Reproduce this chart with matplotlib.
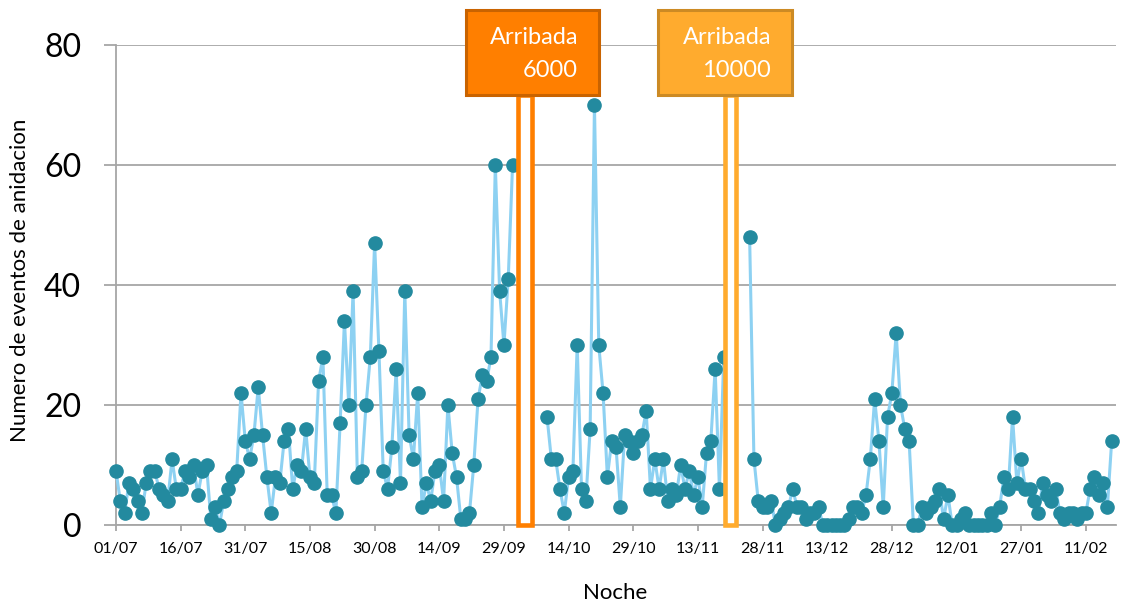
import numpy as np
import pandas as pd
import matplotlib
matplotlib.use('Agg')
import matplotlib.pyplot as plt
import matplotlib.dates as mdates
from matplotlib.patches import Rectangle

plt.rcParams['font.family'] = ['Lato', 'DejaVu Sans']

# ── datos: eventos de anidacion por noche (nan = noches sin muestreo)
INICIO = '2014-07-01'
nidos_jul_oct = [9, 4, 2, 7, 6, 4, 2, 7, 9, 9, 6, 5, 4, 11, 6, 6, 9, 8, 10, 5,
                 9, 10, 1, 3, 0, 4, 6, 8, 9, 22,
                 14, 11, 15, 23, 15, 8, 2, 8, 7, 14, 16, 6, 10, 9, 16, 8, 7, 24,
                 28, 5, 5, 2, 17, 34, 20, 39, 8, 9, 20, 28,
                 47, 29, 9, 6, 13, 26, 7, 39, 15, 11, 22, 3, 7, 4, 9, 10, 4, 20,
                 12, 8, 1, 1, 2, 10, 21, 25, 24, 28, 60, 39, 30, 41, 60]
hueco_1 = 7
nidos_oct_nov = [18, 11, 11, 6, 2, 8, 9, 30, 6, 4, 16, 70, 30, 22, 8, 14, 13, 3,
                 15, 14, 12, 14, 15, 19, 6, 11, 6, 11, 4, 6, 5, 10, 6, 9, 5, 8,
                 3, 12, 14, 26, 6, 28]
hueco_2 = 5
nidos_nov_feb = [48, 11,
                 4, 3, 3, 4, 0, 1, 2, 3, 6, 3, 3, 1, 2, 2, 3, 0, 0, 0, 0, 0, 0,
                 1, 3, 3, 2, 5,
                 11, 21, 14, 3, 18, 22, 32, 20, 16, 14,
                 0, 0, 3, 2, 3, 4, 6, 1, 5, 0, 0, 1, 2, 0, 0, 0, 0, 0, 2, 0, 3,
                 8, 6, 18, 7, 11, 6, 6, 4, 2, 7, 5, 4, 6, 2, 1, 2, 2, 1, 2, 2,
                 6, 8, 5, 7, 3, 14]

nidos = np.array(nidos_jul_oct + [np.nan] * hueco_1 + nidos_oct_nov
                 + [np.nan] * hueco_2 + nidos_nov_feb, dtype=float)

# arribadas (centro, ancho en dias, texto)
ARR_CENTRO = ['2014-10-03 21:30', '2014-11-20 12:00']
ARR_ANCHO = [3.4, 2.55]
ARR_TXT = ['6000', '10000']

# ── estilo
C_LINEA = '#8dd1f2'
C_PUNTO = '#238a9f'
C_GRIS = '#a6a6a6'
ARR_COL = ['#ff7f00', '#ffab2e']
ARR_BORDE = ['#c96300', '#cc8a24']
CAJA_DX = [1.65, -1.2]       # desplazamiento caja respecto a la barra (dias)
CAJA_W, CAJA_Y0, CAJA_Y1 = 30.9, 71.75, 85.9

fechas = pd.date_range(INICIO, periods=len(nidos), freq='D')
x = mdates.date2num(fechas)

fig = plt.figure(figsize=(11.31, 6.04), dpi=100)
ax = fig.add_axes([116 / 1131, 79 / 604, 1000 / 1131, 480 / 604])

ax.plot(x, nidos, color=C_LINEA, lw=2.2, marker='o', ms=9.5,
        mfc=C_PUNTO, mec=C_PUNTO, clip_on=False, zorder=3)

xc = mdates.date2num(pd.to_datetime(ARR_CENTRO))
ax.bar(xc, [CAJA_Y0] * len(xc), width=ARR_ANCHO, facecolor='white',
       edgecolor=ARR_COL, linewidth=3.3, zorder=4, clip_on=False)

for c, dx, txt, fc, ec in zip(xc, CAJA_DX, ARR_TXT, ARR_COL, ARR_BORDE):
    cx = c + dx
    ax.add_patch(Rectangle((cx - CAJA_W / 2, CAJA_Y0), CAJA_W,
                           CAJA_Y1 - CAJA_Y0, facecolor=fc, edgecolor=ec,
                           lw=2.2, clip_on=False, zorder=6))
    xr = cx + CAJA_W / 2 - 4.8
    ax.text(xr, 81.2, 'Arribada', color='white', fontsize=17,
            ha='right', va='center', zorder=7)
    ax.text(xr, 75.8, txt, color='white', fontsize=17,
            ha='right', va='center', zorder=7)

ax.set_xlim(x[0], x[0] + 232)
ax.set_ylim(0, 80)
ax.set_yticks([0, 20, 40, 60, 80])
ax.set_xticks(x[::15])
ax.set_xticklabels([d.strftime('%d/%m') for d in fechas[::15]])

ax.grid(axis='y', color=C_GRIS, lw=1.3)
ax.set_axisbelow(True)
for s in ['top', 'right']:
    ax.spines[s].set_visible(False)
for s in ['left', 'bottom']:
    ax.spines[s].set_color(C_GRIS)
    ax.spines[s].set_linewidth(1.3)
ax.tick_params(axis='y', length=9, width=1.3, color=C_GRIS,
               labelsize=23, pad=16)
ax.tick_params(axis='x', length=4, width=1.3, color=C_GRIS,
               labelsize=11.5, pad=8)

ax.set_ylabel('Numero de eventos de anidacion', fontsize=16)
ax.yaxis.set_label_coords(-0.086, 0.51)
ax.set_xlabel('Noche', fontsize=16)
ax.xaxis.set_label_coords(0.499, -0.121)

fig.savefig('out.png', dpi=100)
